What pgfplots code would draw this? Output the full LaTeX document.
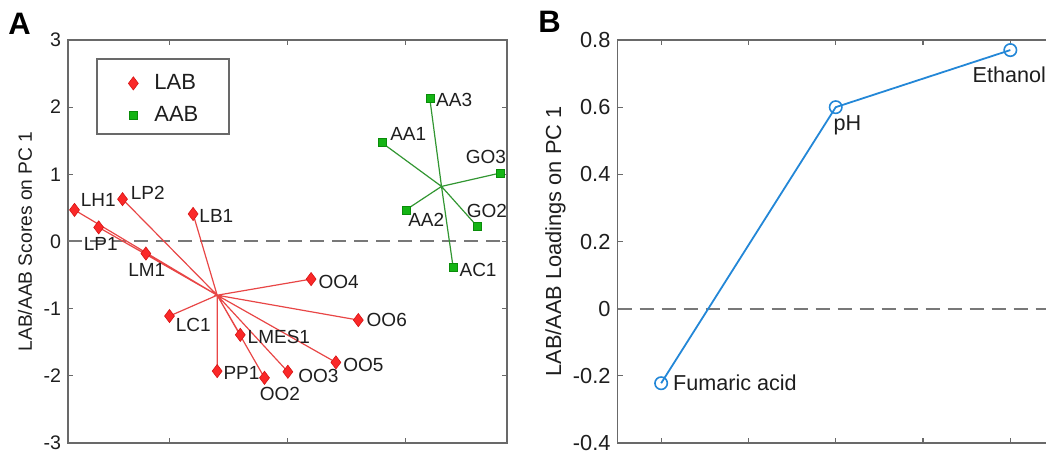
\documentclass[border=0pt]{standalone}
\usepackage{pgfplots}
\pgfplotsset{compat=1.18}
\usepackage{fontspec}
\setmainfont{Liberation Sans}
\definecolor{axgray}{RGB}{105,105,105}
\definecolor{txt}{RGB}{30,30,30}
\definecolor{labred}{RGB}{250,40,40}
\definecolor{labredE}{RGB}{215,20,20}
\definecolor{labline}{RGB}{232,70,70}
\definecolor{aabgreen}{RGB}{20,180,20}
\definecolor{aabgreenE}{RGB}{10,140,10}
\definecolor{aabline}{RGB}{50,150,50}
\definecolor{mblue}{RGB}{35,135,215}
\definecolor{dashgray}{RGB}{120,120,120}

\pgfplotstableread{
x y
-1.805 0.47
-1.398 0.63
-1.600 0.21
-1.200 -0.18
-0.800 0.41
0.200 -0.56
0.600 -1.17
-1.000 -1.11
-0.400 -1.39
-0.596 -1.93
-0.195 -2.03
0.003 -1.94
0.410 -1.80
}\labtable

\pgfplotstableread{
x y
1.206 2.125
0.800 1.47
1.805 1.02
1.003 0.47
1.610 0.22
1.404 -0.39
}\aabtable

\pgfplotstableread{
x y
1 -0.222
3 0.600
5 0.770
}\loadtable

\begin{document}
\begin{tikzpicture}
\path[use as bounding box] (0,0) rectangle (523pt,226.5pt);
\clip (0,0) rectangle (523pt,226.5pt);

\node[anchor=base west, inner sep=0pt, font=\fontsize{15.5}{18}\selectfont\bfseries] at (4pt,209pt) {A};
\node[anchor=base west, inner sep=0pt, font=\fontsize{15.5}{18}\selectfont\bfseries] at (269pt,210pt) {B};

% ---------------- Panel A ----------------
\begin{axis}[
  at={(34pt,5pt)}, anchor=south west,
  scale only axis, width=219.5pt, height=201.5pt,
  xmin=-1.86, xmax=1.86, ymin=-3, ymax=3,
  xtick={-1,0,1}, xticklabels={},
  ytick={-3,-2,-1,0,1,2,3}, yticklabels={-3,-2,-1,0,1,2,3},
  tick pos=both, tick align=inside, major tick length=2.5pt,
  axis line style={axgray, line width=0.8pt},
  every tick/.style={axgray, line width=0.6pt},
  yticklabel style={font=\fontsize{9.8}{11}\selectfont, text=txt},
  ylabel={LAB/AAB Scores on PC 1},
  ylabel style={at={(axis description cs:-0.098,0.5)}, anchor=center, font=\fontsize{9.6}{11}\selectfont, text=txt},
  clip=false,
  legend style={at={(rel axis cs:0.066,0.953)}, anchor=north west, draw=none, fill=none,
    inner xsep=9pt, inner ysep=6.5pt, row sep=5pt,
    font=\fontsize{11}{13}\selectfont, text=txt,
    nodes={inner xsep=4pt, inner ysep=1pt}},
  legend cell align=left,
  legend image code/.code={\path[draw=none,fill=none] (0pt,0pt) -- (15.5pt,0pt); \draw[#1] plot coordinates {(9pt,0pt)};},
]
\draw[axgray, line width=0.8pt] (rel axis cs:0.066,0.953) rectangle (rel axis cs:0.367,0.767);
\addplot[dashgray, line width=1pt, dash pattern=on 7pt off 4pt, forget plot] coordinates {(-1.86,0) (1.86,0)};
% LAB star lines
\addplot[labline, line width=0.6pt, forget plot] coordinates {
(-0.596,-0.80) (-1.805,0.47)
(-0.596,-0.80) (-1.398,0.63)
(-0.596,-0.80) (-1.600,0.21)
(-0.596,-0.80) (-1.200,-0.18)
(-0.596,-0.80) (-0.800,0.41)
(-0.596,-0.80) (0.200,-0.56)
(-0.596,-0.80) (0.600,-1.17)
(-0.596,-0.80) (-1.000,-1.11)
(-0.596,-0.80) (-0.400,-1.39)
(-0.596,-0.80) (-0.596,-1.93)
(-0.596,-0.80) (-0.195,-2.03)
(-0.596,-0.80) (0.003,-1.94)
(-0.596,-0.80) (0.410,-1.80)
(-0.596,-0.80)};
% AAB star lines
\addplot[aabline, line width=0.6pt, forget plot] coordinates {
(1.305,0.82) (1.206,2.125)
(1.305,0.82) (0.800,1.47)
(1.305,0.82) (1.805,1.02)
(1.305,0.82) (1.003,0.47)
(1.305,0.82) (1.610,0.22)
(1.305,0.82) (1.404,-0.39)
(1.305,0.82)};
\addplot[only marks, mark=diamond*, mark size=3.3pt, mark options={fill=labred, draw=labredE, line width=0.3pt}] table[x=x,y=y] {\labtable};
\addlegendentry{LAB}
\addplot[only marks, mark=square*, mark size=2pt, mark options={fill=aabgreen, draw=aabgreenE, line width=0.3pt}] table[x=x,y=y] {\aabtable};
\addlegendentry{AAB}

\begin{scope}[every node/.style={anchor=west, inner sep=0pt, font=\fontsize{9.5}{11}\selectfont, text=txt}]
\node at (axis cs:-1.805,0.47) [xshift=3pt, yshift=5pt] {LH1};
\node at (axis cs:-1.398,0.63) [xshift=4pt, yshift=3pt] {LP2};
\node at (axis cs:-1.600,0.21) [xshift=-7.6pt, yshift=-8.5pt] {LP1};
\node at (axis cs:-1.200,-0.18) [xshift=-9pt, yshift=-8pt] {LM1};
\node at (axis cs:-0.800,0.41) [xshift=3pt, yshift=-1pt] {LB1};
\node at (axis cs:0.200,-0.56) [xshift=3.5pt, yshift=-1.5pt] {OO4};
\node at (axis cs:0.600,-1.17) [xshift=4pt, yshift=0pt] {OO6};
\node at (axis cs:-1.000,-1.11) [xshift=3pt, yshift=-4.5pt] {LC1};
\node at (axis cs:-0.400,-1.39) [xshift=3.5pt, yshift=-1pt] {LMES1};
\node at (axis cs:-0.596,-1.93) [xshift=3pt, yshift=-1pt] {PP1};
\node at (axis cs:-0.195,-2.03) [xshift=-2.5pt, yshift=-8pt] {OO2};
\node at (axis cs:0.003,-1.94) [xshift=5pt, yshift=-2pt] {OO3};
\node at (axis cs:0.410,-1.80) [xshift=3.5pt, yshift=-1.5pt] {OO5};
\node at (axis cs:1.206,2.125) [xshift=3pt, yshift=-0.5pt] {AA3};
\node at (axis cs:0.800,1.47) [xshift=4pt, yshift=4.5pt] {AA1};
\node at (axis cs:1.805,1.02) [xshift=-17.5pt, yshift=8pt] {GO3};
\node at (axis cs:1.003,0.47) [xshift=1pt, yshift=-5pt] {AA2};
\node at (axis cs:1.610,0.22) [xshift=-5.5pt, yshift=8pt] {GO2};
\node at (axis cs:1.404,-0.39) [xshift=3pt, yshift=-1pt] {AC1};
\end{scope}
\end{axis}

% ---------------- Panel B ----------------
\begin{axis}[
  at={(308.75pt,5pt)}, anchor=south west,
  scale only axis, width=218.25pt, height=201.5pt,
  xmin=0.5, xmax=5.5, ymin=-0.4, ymax=0.8,
  xtick={1,2,3,4,5}, xticklabels={},
  ytick={-0.4,-0.2,0,0.2,0.4,0.6,0.8}, yticklabels={-0.4,-0.2,0,0.2,0.4,0.6,0.8},
  tick pos=both, tick align=inside, major tick length=2.5pt,
  axis line style={axgray, line width=0.8pt},
  every tick/.style={axgray, line width=0.6pt},
  yticklabel style={font=\fontsize{10.9}{12}\selectfont, text=txt},
  ylabel={LAB/AAB Loadings on PC 1},
  ylabel style={at={(axis description cs:-0.142,0.5)}, anchor=center, font=\fontsize{10.9}{12}\selectfont, text=txt},
  clip=false,
]
\addplot[dashgray, line width=1pt, dash pattern=on 7pt off 4pt, forget plot] coordinates {(0.5,0) (5.5,0)};
\addplot[mblue, line width=0.9pt, mark=o, mark size=3.1pt, mark options={line width=0.8pt}] table[x=x,y=y] {\loadtable};
\begin{scope}[every node/.style={anchor=west, inner sep=0pt, font=\fontsize{10.8}{12}\selectfont, text=txt}]
\node at (axis cs:1,-0.222) [xshift=5.8pt] {Fumaric acid};
\node at (axis cs:3,0.600) [xshift=-1.3pt, yshift=-8.9pt] {pH};
\node at (axis cs:5,0.770) [xshift=-19pt, yshift=-12.5pt] {Ethanol};
\end{scope}
\end{axis}
\end{tikzpicture}
\end{document}
